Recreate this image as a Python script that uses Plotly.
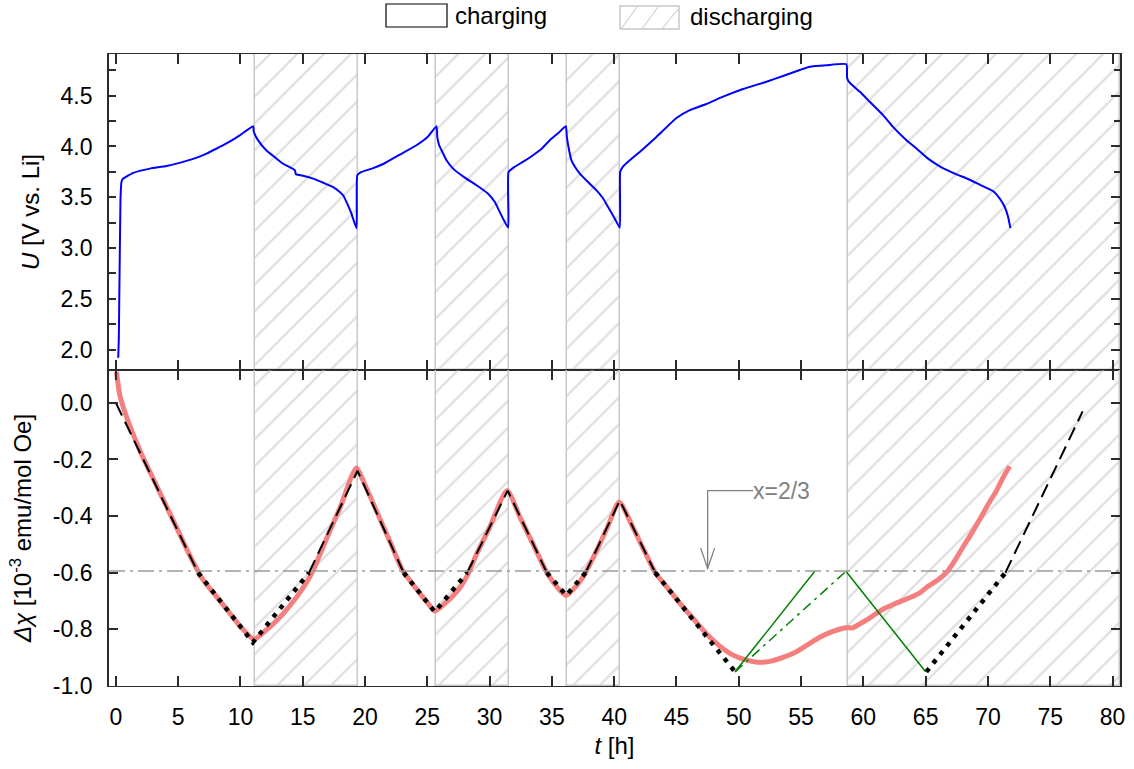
import plotly.graph_objects as go
from plotly.subplots import make_subplots

# ---------------- data ----------------
t_U = [0.19, 0.24, 0.37, 0.45, 0.55, 0.8, 1.4, 2.73, 4.07, 5.67, 6.5, 7.28, 8.1, 8.88, 9.95, 11.02,
       11.07, 11.42, 12.09, 12.8, 13.43, 14.37, 14.45, 15.1, 15.83, 16.7, 17.44, 17.9, 18.24,
       18.6, 18.91, 19.32,
       19.38, 19.72, 20.5, 21.5, 22.79, 24.13, 25.0, 25.74,
       25.8, 25.95, 26.14, 26.54, 27.07, 28.01, 28.95, 29.88, 30.42, 30.82, 31.49,
       31.52, 32.02, 32.7, 33.49, 34.2, 34.83, 35.5, 36.12,
       36.2, 36.38, 36.57, 36.9, 37.24, 37.9, 38.58, 39.1, 39.51, 40.05, 40.45,
       40.48, 40.72, 41.3, 42.05, 43.39, 45.0, 46.07, 47.4, 48.74, 50.34, 52.22, 53.55,
       54.9, 55.7, 57.04, 58.64,
       58.7, 58.9, 59.7, 60.51, 61.58, 62.38, 63.46, 64.26, 65.19, 66.13, 67.47, 68.4,
       69.34, 70.4, 70.95, 71.35, 71.62, 71.8]
U = [1.92, 2.12, 3.47, 3.65, 3.68, 3.70, 3.74, 3.782, 3.808, 3.858, 3.89, 3.93, 3.98, 4.03, 4.11, 4.2,
     4.144, 4.06, 3.96, 3.89, 3.83, 3.766, 3.726, 3.71, 3.684, 3.64, 3.60, 3.56, 3.52,
     3.43, 3.338, 3.196,
     3.716, 3.749, 3.78, 3.83, 3.92, 4.012, 4.09, 4.2,
     4.094, 4.012, 3.963, 3.864, 3.782, 3.693, 3.618, 3.535, 3.453, 3.354, 3.2,
     3.749, 3.80, 3.85, 3.914, 3.98, 4.062, 4.13, 4.2,
     4.094, 3.963, 3.864, 3.79, 3.733, 3.65, 3.568, 3.49, 3.404, 3.289, 3.2,
     3.749, 3.805, 3.87, 3.946, 4.094, 4.28, 4.358, 4.418, 4.49, 4.565, 4.637, 4.694,
     4.753, 4.785, 4.80, 4.809,
     4.671, 4.628, 4.54, 4.44, 4.309, 4.193, 4.062, 3.98, 3.88, 3.805, 3.726, 3.68,
     3.624, 3.561, 3.486, 3.404, 3.305, 3.196]

t_chi = [0.05, 0.3, 0.7, 1.2, 2, 3, 4, 5, 6, 7, 8, 9, 10, 11.1,
         12, 13, 14, 15, 15.5, 16, 17, 18, 19.3,
         20, 21, 22, 23, 24, 25, 25.6, 26.5, 27.5, 28.2, 29, 30, 31.4,
         32.5, 33.5, 34.6, 35.5, 36.15, 37, 37.7, 38.5, 39.5, 40.4,
         41.5, 42.5, 43.3, 44.5, 45.5, 46.5, 47.5, 48.5, 49.5, 50.5, 51.5, 52.5,
         53.5, 54.5, 55.5, 56.5, 57.5, 58.7, 59.1, 59.7, 60.5, 61.6, 62.5, 63.5,
         64.5, 65.1, 66.0, 66.7, 67.3, 68.0, 68.7, 69.3, 70.0, 70.7, 71.2, 71.75]
chi = [0.11, 0.03, -0.03, -0.09, -0.175, -0.268, -0.36, -0.452, -0.545, -0.625, -0.68, -0.735, -0.79, -0.835,
       -0.805, -0.765, -0.715, -0.655, -0.62, -0.575, -0.47, -0.37, -0.23,
       -0.29, -0.39, -0.49, -0.59, -0.65, -0.705, -0.735, -0.705, -0.66, -0.61, -0.53, -0.44, -0.31,
       -0.41, -0.50, -0.60, -0.655, -0.68, -0.645, -0.60, -0.53, -0.435, -0.35,
       -0.44, -0.53, -0.60, -0.665, -0.72, -0.77, -0.82, -0.86, -0.89, -0.907, -0.916, -0.913,
       -0.90, -0.882, -0.855, -0.828, -0.808, -0.793, -0.795, -0.781, -0.76, -0.728, -0.71, -0.692,
       -0.672, -0.651, -0.625, -0.598, -0.56, -0.509, -0.46, -0.415, -0.36, -0.309, -0.265, -0.224]

# model lines (dashed above x=2/3 level, dotted below)
t_model_dash = [0, 6.6, None, 15.5, 19.4, 23.1, None, 28.2, 31.45, 34.6, None,
                37.7, 40.45, 43.3, None, 71.4, 77.6]
chi_model_dash = [0, -0.6, None, -0.6, -0.24, -0.6, None, -0.6, -0.31, -0.6, None,
                  -0.6, -0.345, -0.6, None, -0.6, -0.03]
t_model_dot = [6.6, 11.0, 15.5, None, 23.1, 25.6, 28.2, None, 34.6, 36.15, 37.7, None,
               43.3, 49.7, None, 65.05, 71.4]
chi_model_dot = [-0.6, -0.846, -0.6, None, -0.6, -0.738, -0.6, None, -0.6, -0.68, -0.6, None,
                 -0.6, -0.95, None, -0.95, -0.6]

# green construction lines
t_green_solid = [49.7, 56.1, None, 58.6, 65.0]
chi_green_solid = [-0.95, -0.595, None, -0.595, -0.95]
t_green_dashdot = [49.7, 58.6]
chi_green_dashdot = [-0.95, -0.595]

# discharging intervals
X_RANGE = [-0.55, 80.6]
U_RANGE = [1.80, 4.91]
CHI_RANGE = [-1.0, 0.116]
dis_start = [11.2, 25.7, 36.2, 58.8]
dis_end = [19.45, 31.55, 40.5, X_RANGE[1]]

x_level = -0.594  # x = 2/3 level
U_tickvals = [2.0, 2.5, 3.0, 3.5, 4.0, 4.5]
U_ticktext = ["2.0", "2.5", "3.0", "3.5", "4.0", "4.5"]
chi_tickvals = [-1.0, -0.8, -0.6, -0.4, -0.2, 0.0]
chi_ticktext = ["-1.0", "-0.8", "-0.6", "-0.4", "-0.2", "0.0"]
t_tickvals = list(range(0, 81, 5))

# ---------------- figure ----------------
W, H = 1134, 769
ML, MR, MT, MB = 109, 14, 54, 83
FONT = "Liberation Sans, Arial, sans-serif"
AXC = "#2b2b2b"

fig = make_subplots(rows=2, cols=1, shared_xaxes=True, vertical_spacing=0)

centers = [(a + b) / 2 for a, b in zip(dis_start, dis_end)]
widths = [b - a for a, b in zip(dis_start, dis_end)]
hatch = dict(shape="/", fgcolor="#bdbdbd", bgcolor="rgba(0,0,0,0)", size=19, solidity=0.12)
for row, rng in [(1, U_RANGE), (2, CHI_RANGE)]:
    fig.add_trace(go.Bar(x=centers, width=widths, base=[rng[0]] * 4,
                         y=[rng[1] - rng[0]] * 4,
                         marker=dict(color="rgba(0,0,0,0)", pattern=hatch,
                                     line=dict(color="#c8c8c8", width=1.5)),
                         showlegend=False, hoverinfo="skip"), row=row, col=1)

fig.add_trace(go.Scatter(x=t_U, y=U, mode="lines",
                         line=dict(color="#0000ff", width=2, shape="spline", smoothing=0.4),
                         showlegend=False), row=1, col=1)

fig.add_trace(go.Scatter(x=t_chi, y=chi, mode="lines",
                         line=dict(color="#f47f7f", width=5, shape="spline", smoothing=0.6),
                         showlegend=False), row=2, col=1)
fig.add_trace(go.Scatter(x=t_model_dash, y=chi_model_dash, mode="lines",
                         line=dict(color="black", width=2, dash="14px,7px"),
                         connectgaps=False, showlegend=False), row=2, col=1)
fig.add_trace(go.Scatter(x=t_model_dot, y=chi_model_dot, mode="lines",
                         line=dict(color="black", width=4.5, dash="4.5px,6.5px"),
                         connectgaps=False, showlegend=False), row=2, col=1)
fig.add_trace(go.Scatter(x=t_green_solid, y=chi_green_solid, mode="lines",
                         line=dict(color="#008000", width=1.5),
                         connectgaps=False, showlegend=False), row=2, col=1)
fig.add_trace(go.Scatter(x=t_green_dashdot, y=chi_green_dashdot, mode="lines",
                         line=dict(color="#008000", width=1.5, dash="10px,5px,3px,5px"),
                         showlegend=False), row=2, col=1)
# trace for the right-hand tick axis of the top panel
fig.add_trace(go.Scatter(x=[None], y=[None], yaxis="y3", xaxis="x", showlegend=False))

tickfont = dict(family=FONT, size=23, color="black")
titlefont = dict(family=FONT, size=24, color="black")

xcommon = dict(range=X_RANGE, tickmode="array", tickvals=t_tickvals, ticks="inside",
               ticklen=10, tickwidth=1.5, tickcolor=AXC, showline=True, linecolor=AXC,
               linewidth=1.3, mirror="ticks", showgrid=False, zeroline=False, tickfont=tickfont)
fig.update_layout(
    xaxis=dict(**xcommon, showticklabels=False),
    xaxis2=dict(**xcommon, ticklabelstandoff=10,
                title=dict(text="<i>t</i> [h]", font=titlefont, standoff=8)),
    yaxis=dict(range=U_RANGE, domain=[0.5, 1.0], tickmode="array", tickvals=U_tickvals,
               ticktext=U_ticktext, ticks="", showline=True, linecolor=AXC, linewidth=1.8,
               mirror=True, showgrid=False, zeroline=False, tickfont=tickfont,
               ticklabelstandoff=10,
               minor=dict(ticks="inside", tickmode="linear", tick0=0, dtick=0.25, ticklen=7,
                          tickwidth=1.5, tickcolor=AXC, showgrid=False),
               title=dict(text="<i>U</i> [V vs. Li]", font=titlefont, standoff=14)),
    yaxis3=dict(range=U_RANGE, overlaying="y", side="right", anchor="x",
                tickmode="array", tickvals=U_tickvals, ticks="inside", ticklen=9,
                tickwidth=1.5, tickcolor=AXC, showticklabels=False, showline=False,
                showgrid=False, zeroline=False,
                minor=dict(ticks="inside", tickmode="linear", tick0=0, dtick=0.25, ticklen=6,
                           tickwidth=1.5, tickcolor=AXC, showgrid=False)),
    yaxis2=dict(range=CHI_RANGE, domain=[0.0, 0.5], tickmode="array", tickvals=chi_tickvals,
                ticktext=chi_ticktext, ticks="inside", ticklen=9, tickwidth=1.5, tickcolor=AXC,
                showline=True, linecolor=AXC, linewidth=1.8, mirror="ticks", showgrid=False,
                zeroline=False, tickfont=tickfont, ticklabelstandoff=10,
                title=dict(text="<i>Δχ</i> [10<sup>-3</sup> emu/mol Oe]", font=titlefont,
                           standoff=14)),
    width=W, height=H, margin=dict(l=ML, r=MR, t=MT, b=MB, autoexpand=False),
    paper_bgcolor="white", plot_bgcolor="white", barmode="overlay", bargap=0,
    showlegend=False, font=dict(family=FONT, color="black"),
)


def px_x(px):
    return (px - ML) / (W - ML - MR)


def px_y(py):
    return (H - MB - py) / (H - MT - MB)


shapes = []
# x = 2/3 reference level
shapes.append(dict(type="line", xref="paper", yref="y2", x0=0, x1=1, y0=x_level, y1=x_level,
                   line=dict(color="#9a9a9a", width=1.5, dash="16px,5px,3px,5px"), layer="above"))
# annotation elbow + open arrowhead
ARROW_X, ARROW_TOP, ARROW_TIP, LABEL_X = 47.5, -0.31, -0.585, 51.15
shapes.append(dict(type="path", xref="x2", yref="y2",
                   path=f"M {LABEL_X},{ARROW_TOP} L {ARROW_X},{ARROW_TOP} L {ARROW_X},{ARROW_TIP}",
                   line=dict(color="#808080", width=1.3)))
shapes.append(dict(type="path", xref="x2", yref="y2",
                   path=f"M {ARROW_X - 0.56},{ARROW_TIP + 0.072} L {ARROW_X},{ARROW_TIP} "
                        f"L {ARROW_X + 0.56},{ARROW_TIP + 0.072}",
                   line=dict(color="#808080", width=1.3)))
# manual legend boxes
shapes.append(dict(type="rect", xref="paper", yref="paper", x0=px_x(386), x1=px_x(447),
                   y0=px_y(27), y1=px_y(4), line=dict(color="black", width=1.2),
                   fillcolor="white"))
shapes.append(dict(type="rect", xref="paper", yref="paper", x0=px_x(620), x1=px_x(679),
                   y0=px_y(29), y1=px_y(6), line=dict(color="#c8c8c8", width=1.5),
                   fillcolor="white"))
for xa, xb, yb, yt in [(621, 637, 29, 7), (642, 658, 29, 7), (662, 678, 29, 9)]:
    shapes.append(dict(type="line", xref="paper", yref="paper", x0=px_x(xa), x1=px_x(xb),
                       y0=px_y(yb), y1=px_y(yt), line=dict(color="#c4c4c4", width=1)))
fig.update_layout(shapes=shapes)

annotations = [
    dict(x=LABEL_X, y=ARROW_TOP, xref="x2", yref="y2", text="x=2/3", showarrow=False,
         xanchor="left", yanchor="middle", xshift=-2,
         font=dict(family=FONT, size=23, color="#808080")),
    dict(x=px_x(453), y=px_y(16), xref="paper", yref="paper", text="charging", showarrow=False,
         xanchor="left", yanchor="middle", font=dict(family=FONT, size=24, color="black")),
    dict(x=px_x(688), y=px_y(17), xref="paper", yref="paper", text="discharging",
         showarrow=False, xanchor="left", yanchor="middle",
         font=dict(family=FONT, size=24, color="black")),
]
fig.update_layout(annotations=annotations)

fig.write_html("out.html")
